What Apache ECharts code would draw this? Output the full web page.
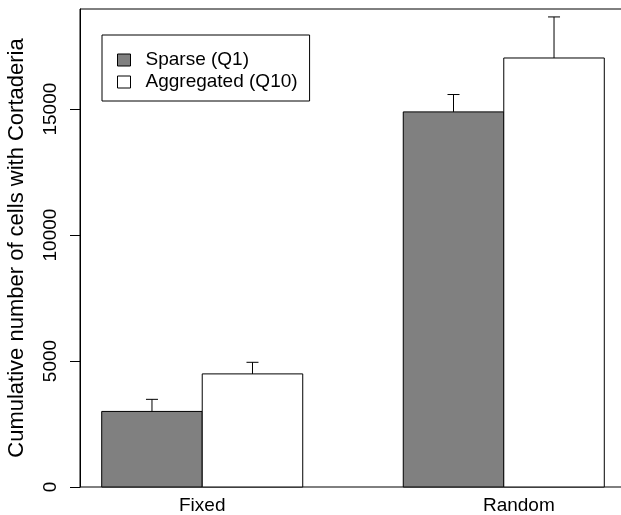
<!DOCTYPE html>
<html>
<head>
<meta charset="utf-8">
<script src="https://cdn.jsdelivr.net/npm/echarts@6/dist/echarts.min.js"></script>
<style>
html, body { margin: 0; padding: 0; background: #fff; }
#chart { width: 621px; height: 515px; }
</style>
</head>
<body>
<div id="chart"></div>
<script>
// data
var groups = ['Fixed', 'Random'];
var groupLabelPos = [2, 5.15];
var sparsePos = [1.5, 4.5];
var aggPos = [2.5, 5.5];
var sparse = [3000, 14890];
var sparseTop = [3480, 15580];
var aggregated = [4490, 17030];
var aggregatedTop = [4950, 18660];
var yTicks = [0, 5000, 10000, 15000];

var font = 'Liberation Sans, Arial, Helvetica, sans-serif';

var myChart = echarts.init(document.getElementById('chart'));

// bar of width 1 (in x units) from 0 up to value, with error whisker on top
function barWithErr(fill) {
	return function(params, api) {
		var x = api.value(0);
		var lo = api.coord([x - 0.5, 0]);
		var hi = api.coord([x + 0.5, api.value(1)]);
		var tip = api.coord([x, api.value(1)]);
		var top = api.coord([x, api.value(2)]);
		var line = { stroke: '#000', lineWidth: 1 };
		return {
			type: 'group',
			children: [
				{ type: 'rect', shape: { x: lo[0], y: hi[1], width: hi[0] - lo[0], height: lo[1] - hi[1] },
					style: { fill: fill, stroke: '#000', lineWidth: 1 } },
				{ type: 'line', shape: { x1: tip[0], y1: tip[1], x2: top[0], y2: top[1] }, style: line },
				{ type: 'line', shape: { x1: top[0] - 6, y1: top[1], x2: top[0] + 6, y2: top[1] }, style: line }
			]
		};
	};
}

var option = {
	animation: false,
	textStyle: { fontFamily: font },
	grid: {
		left: 80, top: 9, width: 546, height: 478,
		outerBoundsMode: 'none',
		show: true, borderColor: '#000', borderWidth: 1, backgroundColor: 'transparent'
	},
	legend: {
		orient: 'vertical',
		left: 102, top: 35,
		width: 206,
		padding: [14, 12, 8, 15],
		itemGap: 0,
		itemWidth: 13, itemHeight: 12,
		borderColor: '#000', borderWidth: 1,
		backgroundColor: '#fff',
		textStyle: { fontSize: 19, color: '#000', lineHeight: 22, fontFamily: font, padding: [0, 0, 0, 10] },
		data: [
			{ name: 'Sparse (Q1)', icon: 'rect', itemStyle: { color: '#808080', borderColor: '#000', borderWidth: 1 } },
			{ name: 'Aggregated (Q10)', icon: 'rect', itemStyle: { color: '#fff', borderColor: '#000', borderWidth: 1 } }
		]
	},
	xAxis: {
		type: 'value',
		min: 0.784, max: 6.216,
		splitLine: { show: false },
		axisLine: { show: false },
		axisTick: { show: false },
		axisLabel: {
			customValues: groupLabelPos,
			formatter: function(v) {
				var i = groupLabelPos.indexOf(v);
				return i >= 0 ? groups[i] : '';
			},
			fontSize: 19, color: '#000', margin: 9, fontFamily: font
		}
	},
	yAxis: {
		type: 'value',
		min: 0, max: 18975,
		name: 'Cumulative number of cells with Cortaderia',
		nameLocation: 'middle',
		nameGap: 52,
		nameTextStyle: { fontSize: 22, color: '#000', fontFamily: font },
		splitLine: { show: false },
		axisLine: { show: true, lineStyle: { color: '#000', width: 1 } },
		axisTick: { show: true, customValues: yTicks, length: 10, lineStyle: { color: '#000' } },
		axisLabel: {
			customValues: yTicks,
			rotate: 90,
			formatter: function(v) { return String(v); },
			fontSize: 19, color: '#000', margin: 20, fontFamily: font
		}
	},
	series: [
		{
			name: 'Sparse (Q1)',
			type: 'custom',
			renderItem: barWithErr('#808080'),
			itemStyle: { color: '#808080' },
			data: sparsePos.map(function(x, i) { return [x, sparse[i], sparseTop[i]]; })
		},
		{
			name: 'Aggregated (Q10)',
			type: 'custom',
			renderItem: barWithErr('#fff'),
			itemStyle: { color: '#fff' },
			data: aggPos.map(function(x, i) { return [x, aggregated[i], aggregatedTop[i]]; })
		}
	]
};
myChart.setOption(option);
</script>
</body>
</html>
